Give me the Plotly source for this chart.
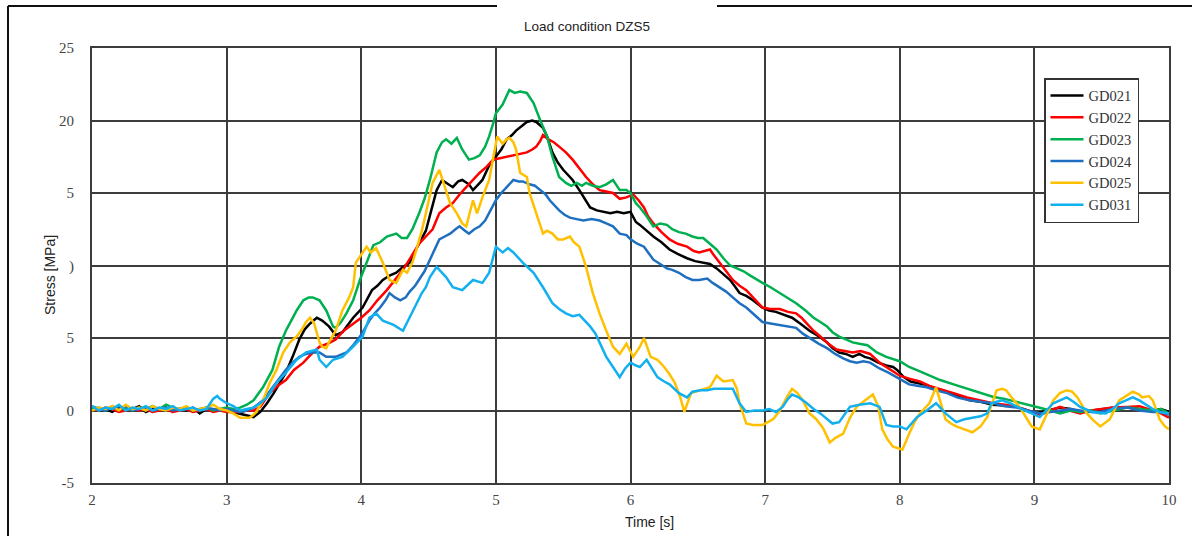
import plotly.graph_objects as go

# ---------------- data ----------------
t_flat = [2.00, 2.05, 2.10, 2.15, 2.20, 2.25, 2.30, 2.35, 2.40, 2.45, 2.50,
          2.55, 2.60, 2.65, 2.70, 2.75, 2.80, 2.85, 2.90, 2.95, 3.00]

gd021_t = t_flat + [3.05, 3.10, 3.15, 3.20, 3.25, 3.30, 3.35, 3.40, 3.44, 3.49, 3.54, 3.58, 3.62, 3.67, 3.71, 3.76, 3.81, 3.86, 3.90, 3.94,
                    4.01, 4.08, 4.12, 4.16, 4.21, 4.26, 4.31, 4.36, 4.40, 4.43, 4.48, 4.52, 4.56, 4.60, 4.65, 4.68, 4.72, 4.75, 4.80, 4.83,
                    4.87, 4.90, 4.95, 5.00, 5.04, 5.08, 5.12, 5.15, 5.19, 5.23, 5.27, 5.30, 5.35, 5.38, 5.42, 5.46, 5.50, 5.54, 5.57, 5.62,
                    5.66, 5.70, 5.75, 5.80, 5.85, 5.90, 5.95, 6.00, 6.04, 6.07, 6.12, 6.17, 6.23, 6.29, 6.35, 6.42, 6.48, 6.54, 6.59, 6.64,
                    6.69, 6.74, 6.78, 6.81, 6.86, 6.91, 6.98, 7.03, 7.08, 7.14, 7.20, 7.26, 7.33, 7.40, 7.46, 7.50, 7.55, 7.60, 7.65, 7.70,
                    7.74, 7.78, 7.84, 7.90, 7.95, 7.98, 8.03, 8.08, 8.14, 8.20, 8.27, 8.35, 8.43, 8.52, 8.60, 8.69, 8.78, 8.87, 8.95, 9.02,
                    9.10, 9.19, 9.27, 9.35, 9.43, 9.52, 9.60, 9.69, 9.78, 9.88, 9.94, 10.0]
gd021_v = [0.2, 0.0, 0.1, -0.1, 0.2, 0.0, 0.1, 0.3, -0.1, 0.1, 0.0, 0.2, -0.1, 0.1, 0.0, 0.2, -0.2, 0.1, 0.0, 0.1, 0.0] + \
          [-0.1, -0.2, -0.3, -0.45, -0.1, 0.5, 1.2, 2.0, 2.6, 3.7, 4.9, 5.6, 6.0, 6.4, 6.2, 5.8, 5.2, 5.4, 5.9, 6.4,
           7.1, 8.3, 8.6, 9.0, 9.3, 9.5, 9.9, 10.2, 11.0, 11.5, 12.4, 13.8, 15.2, 15.9, 15.6, 15.4, 15.8, 15.9, 15.6, 15.2,
           15.6, 15.9, 16.9, 17.5, 18.0, 18.7, 19.0, 19.3, 19.6, 19.9, 20.0, 19.9, 19.5, 18.9, 17.8, 17.1, 16.6, 16.2, 15.9, 15.2,
           14.6, 14.0, 13.8, 13.7, 13.6, 13.7, 13.6, 13.7, 13.0, 12.8, 12.4, 12.0, 11.6, 11.1, 10.8, 10.5, 10.3, 10.2, 10.1, 9.8,
           9.4, 9.0, 8.5, 8.1, 7.9, 7.6, 7.1, 6.9, 6.8, 6.6, 6.4, 6.0, 5.5, 5.1, 4.7, 4.3, 4.0, 3.9, 3.7, 3.9,
           3.7, 3.6, 3.3, 3.1, 3.0, 2.8, 2.3, 2.0, 1.9, 1.75, 1.5, 1.3, 1.0, 0.7, 0.6, 0.4, 0.35, 0.25, 0.0, -0.2,
           0.0, 0.2, 0.1, -0.1, 0.0, 0.1, 0.2, 0.2, 0.1, 0.0, 0.1, -0.1]

gd022_t = t_flat + [3.05, 3.10, 3.15, 3.20, 3.25, 3.32, 3.38, 3.44, 3.50, 3.57, 3.63, 3.69, 3.75, 3.81, 3.87, 3.94, 4.00, 4.06, 4.12, 4.19,
                    4.25, 4.31, 4.37, 4.43, 4.48, 4.53, 4.58, 4.63, 4.68, 4.73, 4.78, 4.83, 4.88, 4.93, 4.98, 5.03, 5.08, 5.15, 5.23, 5.27,
                    5.30, 5.33, 5.35, 5.39, 5.43, 5.47, 5.52, 5.57, 5.62, 5.67, 5.72, 5.77, 5.82, 5.87, 5.92, 5.97, 6.02, 6.06, 6.10, 6.13,
                    6.17, 6.23, 6.29, 6.35, 6.42, 6.47, 6.51, 6.55, 6.59, 6.62, 6.66, 6.71, 6.76, 6.81, 6.86, 6.92, 6.98, 7.04, 7.11, 7.17,
                    7.23, 7.27, 7.31, 7.36, 7.41, 7.47, 7.53, 7.59, 7.65, 7.71, 7.78, 7.85, 7.92, 8.00, 8.07, 8.15, 8.22, 8.30, 8.40, 8.50,
                    8.60, 8.69, 8.78, 8.87, 8.95, 9.04, 9.12, 9.19, 9.26, 9.34, 9.42, 9.49, 9.58, 9.69, 9.78, 9.88, 9.94, 10.0]
gd022_v = [0.1, 0.0, 0.2, 0.1, -0.1, 0.0, 0.1, 0.0, 0.1, -0.1, 0.0, 0.1, -0.1, 0.0, 0.1, -0.1, 0.0, 0.1, -0.1, 0.0, -0.1] + \
          [-0.1, -0.1, 0.0, 0.0, 0.25, 1.2, 1.7, 2.1, 2.8, 3.3, 3.9, 4.4, 4.6, 4.9, 5.5, 6.0, 6.4, 6.9, 7.6, 8.3,
           9.0, 9.7, 10.6, 11.5, 12.0, 12.5, 13.6, 14.0, 14.3, 14.9, 15.4, 15.9, 16.4, 16.8, 17.3, 17.4, 17.5, 17.6, 17.8, 18.0,
           18.2, 18.6, 19.0, 18.7, 18.5, 18.2, 17.8, 17.3, 16.7, 16.1, 15.6, 15.2, 15.1, 15.0, 14.6, 14.7, 14.9, 14.5, 14.0, 13.4,
           12.9, 12.3, 11.8, 11.5, 11.3, 11.0, 10.9, 11.0, 11.1, 10.7, 10.2, 9.6, 9.0, 8.6, 8.3, 7.7, 7.1, 7.0, 7.0, 6.8,
           6.7, 6.4, 6.0, 5.5, 5.1, 4.6, 4.2, 4.1, 4.0, 4.1, 3.9, 3.3, 2.9, 2.4, 2.2, 2.0, 1.7, 1.5, 1.2, 0.9,
           0.7, 0.5, 0.4, 0.25, 0.0, -0.3, 0.0, 0.25, 0.0, -0.2, 0.0, 0.1, 0.2, 0.25, 0.3, 0.0, -0.2, -0.5]

gd023_t = t_flat + [3.05, 3.10, 3.15, 3.20, 3.27, 3.34, 3.39, 3.44, 3.48, 3.52, 3.57, 3.61, 3.64, 3.69, 3.74, 3.79, 3.81, 3.85, 3.89, 3.94,
                    3.99, 4.04, 4.09, 4.14, 4.19, 4.26, 4.30, 4.34, 4.38, 4.43, 4.47, 4.51, 4.54, 4.56, 4.60, 4.63, 4.67, 4.71, 4.75, 4.80,
                    4.84, 4.88, 4.92, 4.95, 4.98, 5.00, 5.05, 5.08, 5.10, 5.14, 5.18, 5.23, 5.28, 5.33, 5.38, 5.42, 5.47, 5.52, 5.56, 5.60,
                    5.64, 5.67, 5.72, 5.77, 5.82, 5.87, 5.92, 5.97, 6.00, 6.04, 6.07, 6.12, 6.17, 6.22, 6.27, 6.31, 6.36, 6.41, 6.46, 6.50,
                    6.54, 6.59, 6.64, 6.69, 6.74, 6.79, 6.84, 6.89, 6.94, 6.98, 7.04, 7.11, 7.17, 7.23, 7.30, 7.36, 7.41, 7.46, 7.50, 7.55,
                    7.60, 7.65, 7.70, 7.76, 7.83, 7.90, 8.00, 8.07, 8.15, 8.22, 8.30, 8.40, 8.50, 8.60, 8.69, 8.78, 8.87, 8.95, 9.04, 9.12,
                    9.19, 9.27, 9.34, 9.42, 9.49, 9.58, 9.69, 9.78, 9.88, 9.94, 10.0]
gd023_v = [0.1, 0.2, 0.0, 0.3, 0.1, 0.2, 0.0, 0.2, 0.1, 0.3, 0.1, 0.4, 0.2, 0.1, 0.2, 0.0, 0.1, 0.2, 0.0, 0.1, 0.2] + \
          [0.1, 0.2, 0.4, 0.7, 1.6, 2.8, 4.4, 5.5, 6.2, 6.9, 7.6, 7.8, 7.8, 7.6, 6.9, 5.8, 5.7, 6.1, 6.7, 7.6,
           9.0, 10.2, 11.4, 11.6, 12.0, 12.2, 11.9, 11.9, 12.5, 13.6, 14.6, 15.9, 17.0, 17.8, 18.5, 18.7, 18.4, 18.8, 18.0, 17.3,
           17.4, 17.6, 18.2, 18.9, 19.8, 20.5, 21.1, 21.7, 22.1, 21.9, 22.0, 21.9, 21.2, 20.0, 18.9, 17.5, 16.1, 15.7, 15.5, 15.7,
           15.5, 15.7, 15.5, 15.4, 15.6, 15.9, 15.2, 15.2, 15.0, 14.3, 14.0, 13.4, 12.7, 12.9, 12.8, 12.5, 12.3, 12.2, 12.0, 11.9,
           11.9, 11.5, 11.1, 10.5, 10.0, 9.8, 9.6, 9.3, 9.0, 8.8, 8.5, 8.1, 7.8, 7.4, 6.9, 6.4, 6.1, 5.8, 5.4, 5.1,
           4.9, 4.7, 4.6, 4.5, 4.0, 3.7, 3.4, 3.0, 2.7, 2.4, 2.1, 1.8, 1.5, 1.2, 0.95, 0.8, 0.6, 0.4, 0.2, 0.0,
           -0.2, 0.0, -0.1, 0.0, -0.2, 0.0, 0.2, 0.1, 0.0, 0.1, -0.2]

gd024_t = t_flat + [3.05, 3.10, 3.15, 3.20, 3.27, 3.34, 3.39, 3.44, 3.49, 3.54, 3.59, 3.64, 3.69, 3.74, 3.81, 3.89, 3.94, 3.99, 4.03, 4.06,
                    4.10, 4.14, 4.18, 4.21, 4.25, 4.29, 4.33, 4.36, 4.40, 4.43, 4.47, 4.51, 4.55, 4.58, 4.62, 4.66, 4.70, 4.73, 4.77, 4.80,
                    4.84, 4.88, 4.92, 4.95, 5.00, 5.04, 5.08, 5.13, 5.17, 5.20, 5.25, 5.29, 5.33, 5.37, 5.40, 5.44, 5.47, 5.51, 5.55, 5.60,
                    5.65, 5.71, 5.77, 5.82, 5.87, 5.92, 5.97, 6.00, 6.05, 6.10, 6.13, 6.17, 6.22, 6.27, 6.31, 6.36, 6.41, 6.46, 6.51, 6.57,
                    6.61, 6.66, 6.71, 6.76, 6.81, 6.86, 6.92, 6.98, 7.04, 7.11, 7.17, 7.23, 7.28, 7.33, 7.40, 7.46, 7.52, 7.58, 7.63, 7.68,
                    7.73, 7.78, 7.85, 7.92, 8.00, 8.07, 8.13, 8.20, 8.27, 8.35, 8.43, 8.52, 8.60, 8.69, 8.78, 8.87, 8.95, 9.04, 9.12, 9.19,
                    9.27, 9.34, 9.42, 9.49, 9.58, 9.69, 9.78, 9.88, 9.94, 10.0]
gd024_v = [0.3, 0.1, 0.0, 0.2, 0.1, 0.3, 0.0, 0.1, 0.2, 0.0, 0.1, 0.2, 0.0, 0.1, 0.2, 0.1, 0.0, 0.2, 0.1, 0.0, 0.1] + \
          [0.0, -0.1, 0.0, 0.2, 0.7, 1.6, 2.2, 2.8, 3.3, 3.7, 3.9, 4.0, 4.0, 3.7, 3.7, 4.0, 4.5, 5.1, 5.7, 6.2,
           6.7, 7.1, 7.6, 8.1, 7.8, 7.6, 7.8, 8.2, 8.6, 9.0, 9.6, 10.4, 11.2, 11.8, 12.0, 12.2, 12.5, 12.7, 12.4, 12.2,
           12.5, 12.7, 13.1, 13.6, 14.5, 15.0, 15.4, 15.9, 15.8, 15.8, 15.6, 15.5, 15.2, 14.9, 14.5, 14.1, 13.8, 13.5, 13.3, 13.2,
           13.1, 13.2, 13.1, 12.9, 12.7, 12.2, 12.1, 11.8, 11.5, 11.3, 10.9, 10.4, 10.1, 9.8, 9.7, 9.5, 9.2, 9.0, 9.0, 9.1,
           8.8, 8.5, 8.2, 7.8, 7.4, 7.1, 6.6, 6.1, 6.0, 5.9, 5.8, 5.7, 5.3, 5.0, 4.6, 4.3, 3.9, 3.6, 3.4, 3.3,
           3.4, 3.3, 2.9, 2.6, 2.2, 1.8, 1.7, 1.6, 1.4, 1.2, 0.9, 0.7, 0.6, 0.5, 0.3, 0.2, 0.0, -0.2, -0.1, 0.0,
           0.1, 0.0, -0.1, -0.1, 0.1, 0.2, 0.0, -0.1, -0.1, -0.3]

gd025_t = t_flat + [3.05, 3.10, 3.14, 3.17, 3.20, 3.22, 3.27, 3.32, 3.37, 3.42, 3.47, 3.52, 3.56, 3.59, 3.62, 3.65, 3.69, 3.71, 3.74, 3.76,
                    3.81, 3.86, 3.91, 3.94, 3.96, 3.99, 4.04, 4.07, 4.11, 4.16, 4.21, 4.26, 4.31, 4.34, 4.38, 4.41, 4.45, 4.48, 4.51, 4.53,
                    4.58, 4.62, 4.66, 4.71, 4.75, 4.78, 4.81, 4.83, 4.86, 4.90, 4.95, 4.98, 5.01, 5.05, 5.08, 5.10, 5.13, 5.15, 5.18, 5.23,
                    5.25, 5.30, 5.35, 5.38, 5.42, 5.46, 5.50, 5.55, 5.58, 5.62, 5.67, 5.72, 5.77, 5.82, 5.87, 5.92, 5.97, 6.02, 6.07, 6.10,
                    6.15, 6.20, 6.25, 6.29, 6.33, 6.37, 6.40, 6.45, 6.52, 6.59, 6.64, 6.69, 6.76, 6.79, 6.81, 6.86, 6.91, 6.98, 7.02, 7.06,
                    7.11, 7.16, 7.20, 7.24, 7.28, 7.33, 7.38, 7.43, 7.48, 7.52, 7.58, 7.63, 7.68, 7.74, 7.80, 7.84, 7.87, 7.91, 7.95, 7.99,
                    8.02, 8.07, 8.11, 8.15, 8.22, 8.27, 8.30, 8.34, 8.38, 8.42, 8.48, 8.54, 8.60, 8.65, 8.69, 8.72, 8.76, 8.79, 8.84, 8.89,
                    8.94, 8.98, 9.04, 9.09, 9.14, 9.19, 9.24, 9.28, 9.32, 9.39, 9.44, 9.49, 9.56, 9.63, 9.68, 9.73, 9.78, 9.80, 9.85, 9.88,
                    9.93, 9.97, 10.0]
gd025_v = [0.0, 0.2, 0.1, 0.3, 0.0, 0.4, 0.1, 0.2, 0.0, 0.3, 0.1, 0.0, 0.2, 0.1, 0.3, 0.0, 0.1, 0.2, 0.4, 0.1, 0.0] + \
          [-0.2, -0.5, -0.5, -0.5, -0.3, -0.1, 0.7, 1.9, 2.8, 4.0, 4.7, 5.1, 5.6, 6.1, 6.4, 6.0, 4.7, 4.4, 4.3, 4.7,
           5.5, 6.9, 7.8, 8.5, 10.2, 10.6, 11.3, 10.9, 11.2, 10.2, 9.0, 8.8, 9.7, 9.5, 10.2, 11.1, 12.4, 13.6, 14.8, 15.7,
           16.6, 15.4, 14.3, 13.6, 12.9, 12.7, 13.8, 14.5, 13.6, 14.7, 15.9, 17.5, 18.9, 18.4, 18.7, 18.8, 18.5, 18.0, 16.4, 16.1,
           15.0, 13.6, 12.2, 12.4, 12.2, 11.8, 11.8, 12.0, 11.6, 11.3, 9.9, 8.1, 6.7, 5.5, 4.4, 3.9, 4.6, 3.7, 4.4, 5.0,
           3.7, 3.5, 3.0, 2.5, 1.9, 0.9, -0.1, 1.2, 1.4, 1.6, 2.4, 2.0, 2.1, 1.5, 0.5, -0.9, -1.0, -1.0, -0.8, -0.6,
           0.0, 0.9, 1.5, 1.2, 0.7, -0.2, -0.6, -1.2, -2.2, -1.9, -1.6, -0.5, 0.25, 0.7, 1.1, 0.3, -1.3, -2.0, -2.5, -2.6,
           -2.7, -1.6, -0.8, -0.2, 0.5, 1.6, 0.6, -0.6, -0.9, -1.1, -1.3, -1.5, -1.1, -0.45, 0.6, 1.4, 1.5, 1.4, 0.8, 0.25,
           -0.5, -1.1, -1.3, -0.3, 0.7, 1.2, 1.4, 1.3, 0.9, -0.2, -0.7, -1.1, -0.6, 0.7, 1.0, 1.3, 1.1, 0.9, 1.0, 0.7,
           -0.6, -1.1, -1.3]

gd031_t = [2.00, 2.05, 2.10, 2.15, 2.20, 2.25, 2.30, 2.35, 2.40, 2.45, 2.50, 2.55, 2.60, 2.65, 2.70, 2.75, 2.80, 2.85,
           2.90, 2.93, 2.95, 3.00,
           3.05, 3.10, 3.15, 3.20, 3.25, 3.30, 3.37, 3.44, 3.52, 3.59, 3.63, 3.67, 3.69, 3.74, 3.79, 3.86, 3.94, 4.01, 4.06,
           4.11, 4.16, 4.24, 4.31, 4.36, 4.41, 4.45, 4.48, 4.51, 4.56, 4.63, 4.68, 4.75, 4.83, 4.90, 4.95, 5.00, 5.05, 5.09,
           5.13, 5.20, 5.28, 5.35, 5.42, 5.47, 5.52, 5.57, 5.62, 5.66, 5.70, 5.74, 5.77, 5.82, 5.87, 5.92, 5.96, 6.00, 6.04,
           6.07, 6.12, 6.16, 6.20, 6.25, 6.29, 6.36, 6.42, 6.46, 6.52, 6.57, 6.62, 6.66, 6.72, 6.76, 6.81, 6.86, 6.92, 6.98,
           7.03, 7.08, 7.13, 7.17, 7.20, 7.25, 7.31, 7.36, 7.41, 7.46, 7.50, 7.55, 7.59, 7.63, 7.70, 7.78, 7.85, 7.90, 7.95,
           8.00, 8.05, 8.09, 8.13, 8.20, 8.27, 8.34, 8.42, 8.48, 8.54, 8.60, 8.65, 8.68, 8.72, 8.76, 8.82, 8.87, 8.93, 8.98,
           9.04, 9.09, 9.14, 9.19, 9.24, 9.29, 9.34, 9.43, 9.53, 9.58, 9.63, 9.68, 9.73, 9.78, 9.83, 9.88, 9.93, 10.0]
gd031_v = [0.3, 0.0, 0.2, 0.1, 0.4, 0.0, 0.2, 0.1, 0.3, 0.0, 0.2, 0.1, 0.3, 0.0, 0.1, 0.2, 0.0, 0.1,
           0.8, 1.0, 0.8, 0.5,
           0.3, 0.0, 0.1, 0.2, 0.5, 0.9, 1.9, 2.6, 3.5, 4.0, 4.1, 4.2, 3.5, 3.0, 3.5, 3.7, 4.4, 5.1, 6.4,
           6.7, 6.2, 5.9, 5.5, 6.4, 7.4, 8.1, 8.5, 9.2, 9.9, 9.2, 8.5, 8.3, 9.0, 8.8, 9.5, 11.3, 10.9, 11.2,
           10.9, 10.2, 9.5, 8.5, 7.4, 7.0, 6.7, 6.5, 6.6, 6.2, 5.8, 5.3, 4.7, 3.7, 3.0, 2.3, 2.9, 3.3, 3.1,
           3.0, 3.5, 2.9, 2.3, 2.0, 1.8, 1.2, 0.9, 1.3, 1.4, 1.4, 1.5, 1.5, 1.5, 1.5, 0.5, -0.1, 0.0, 0.0,
           0.1, -0.1, 0.25, 0.8, 1.1, 0.9, 0.5, 0.1, -0.2, -0.6, -0.9, -0.8, -0.3, 0.25, 0.4, 0.5, 0.25, -1.0, -1.1,
           -1.1, -1.3, -0.9, -0.45, 0.0, 0.5, -0.2, -0.8, -0.6, -0.5, -0.4, -0.2, 0.5, 0.6, 0.7, 0.5, 0.25, 0.0, -0.2,
           -0.45, 0.0, 0.5, 0.7, 0.9, 0.6, 0.25, -0.1, -0.2, 0.1, 0.5, 0.7, 0.9, 0.7, 0.4, 0.1, -0.1, -0.2]

series_names = ["GD021", "GD022", "GD023", "GD024", "GD025", "GD031"]
y_tickvals = [-5, 0, 5, 10, 15, 20, 25]
y_ticktext = ["-5", "0", "5", ")", "5", "20", "25"]
x_tickvals = [2, 3, 4, 5, 6, 7, 8, 9, 10]
x_ticktext = ["2", "3", "4", "5", "6", "7", "8", "9", "10"]

# ---------------- styling ----------------
colors = ["#000000", "#ff0000", "#00b050", "#1f6fc0", "#ffc000", "#12b0ee"]
series = [(gd021_t, gd021_v), (gd022_t, gd022_v), (gd023_t, gd023_v),
          (gd024_t, gd024_v), (gd025_t, gd025_v), (gd031_t, gd031_v)]

W, H = 1192, 536
L, R, T, B = 92, 1169, 48, 483
pw, ph = R - L, B - T


def px(x):
    return (x - L) / pw


def py(y):
    return (B - y) / ph


fig = go.Figure()
for name, col, (tt, vv) in zip(series_names, colors, series):
    fig.add_trace(go.Scatter(x=tt, y=vv, mode="lines", name=name,
                             line=dict(color=col, width=2.5)))

serif = "Liberation Serif, Times New Roman, serif"
sans = "Liberation Sans, Arial, sans-serif"
grid_col = "#3c3c3c"

fig.update_layout(
    width=W, height=H,
    margin=dict(l=L, r=W - R, t=T, b=H - B, pad=0),
    paper_bgcolor="white", plot_bgcolor="white",
    showlegend=True,
    legend=dict(x=px(1044), y=py(78), xanchor="left", yanchor="top",
                bgcolor="white", bordercolor="#333", borderwidth=1.5,
                font=dict(family=serif, size=14.5, color="#333"),
                tracegroupgap=0, itemwidth=33),
    xaxis=dict(range=[2, 10], tickvals=x_tickvals, ticktext=x_ticktext,
               showgrid=True, gridcolor=grid_col, gridwidth=1.6,
               showline=True, linecolor=grid_col, linewidth=2, mirror=True,
               zeroline=False, ticks="", ticklabelstandoff=2,
               tickfont=dict(family=serif, size=15, color="#444")),
    yaxis=dict(range=[-5, 25], tickvals=y_tickvals, ticktext=y_ticktext,
               showgrid=True, gridcolor=grid_col, gridwidth=1.6,
               showline=True, linecolor=grid_col, linewidth=2, mirror=True,
               zeroline=False, ticks="", ticklabelstandoff=13,
               tickfont=dict(family=serif, size=15, color="#444")),
    shapes=[
        dict(type="line", xref="paper", yref="paper", x0=px(8), x1=px(8), y0=py(6), y1=py(540),
             line=dict(color="#111", width=2)),
        dict(type="line", xref="paper", yref="paper", x0=px(8), x1=px(497), y0=py(6), y1=py(6),
             line=dict(color="#111", width=2)),
        dict(type="line", xref="paper", yref="paper", x0=px(717), x1=px(1195), y0=py(6), y1=py(6),
             line=dict(color="#111", width=2)),
    ],
    annotations=[
        dict(text="Load condition DZS5", xref="paper", yref="paper", x=px(587), y=py(27),
             showarrow=False, xanchor="center", yanchor="middle",
             font=dict(family=sans, size=13.5, color="#222")),
        dict(text="Stress [MPa]", xref="paper", yref="paper", x=px(50), y=py(275),
             showarrow=False, xanchor="center", yanchor="middle", textangle=-90,
             font=dict(family=sans, size=14, color="#222")),
        dict(text="Time [s]", xref="paper", yref="paper", x=px(649), y=py(522),
             showarrow=False, xanchor="center", yanchor="middle",
             font=dict(family=sans, size=14, color="#222")),
    ],
)

fig.write_html("out.html")
